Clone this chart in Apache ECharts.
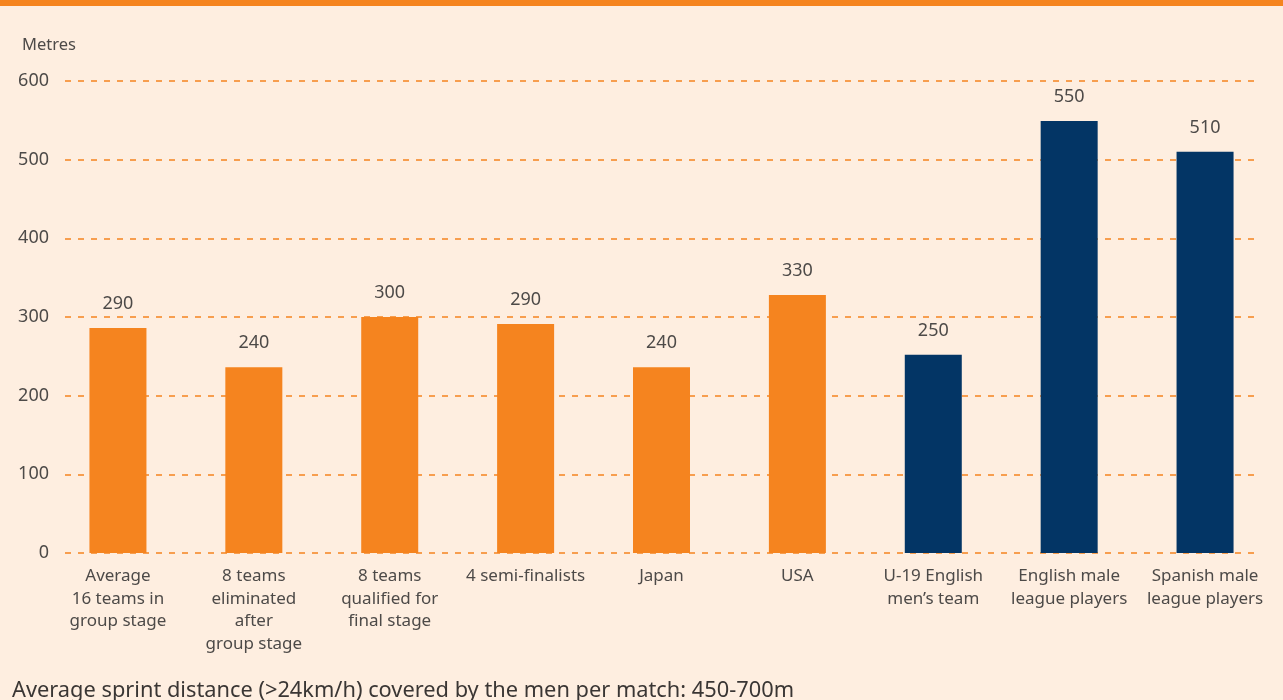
<!DOCTYPE html>
<html>
<head>
<meta charset="utf-8">
<script src="https://cdn.jsdelivr.net/npm/echarts@6/dist/echarts.min.js"></script>
<style>
  html, body { margin: 0; padding: 0; background: #FEEEE0; }
  #chart { width: 1283px; height: 700px; }
</style>
</head>
<body>
<div id="chart"></div>
<script>
// categories and values (metres)
const categories = [
  'Average\n16 teams in\ngroup stage',
  '8 teams\neliminated\nafter\ngroup stage',
  '8 teams\nqualified for\nfinal stage',
  '4 semi-finalists',
  'Japan',
  'USA',
  'U-19 English\nmen\u2019s team',
  'English male\nleague players',
  'Spanish male\nleague players'
]
const values = [286, 236, 300, 291, 236, 328, 252, 549, 510]
// first six are the women's teams (orange), last three the men (navy)
const groups = ['w', 'w', 'w', 'w', 'w', 'w', 'm', 'm', 'm']
const yTicks = [0, 100, 200, 300, 400, 500, 600]

const ORANGE = '#F5841F'
const NAVY = '#033565'
const TEXT = '#4d4a48'
const FONT = '"Noto Sans", "Open Sans", sans-serif'

const chart = echarts.init(document.getElementById('chart'))

const option = {
  backgroundColor: '#FEEEE0',
  animation: false,
  textStyle: { fontFamily: FONT },
  graphic: [
    // orange strip along the top
    { type: 'rect', left: 0, top: 0, shape: { width: 1283, height: 6 }, style: { fill: ORANGE } }
  ],
  title: [
    {
      text: 'Metres', left: 17, top: 32,
      textStyle: { fontFamily: FONT, fontSize: 16.5, fontWeight: 'normal', color: TEXT }
    },
    {
      text: 'Average sprint distance (>24km/h) covered by the men per match: 450-700m',
      left: 7, top: 675,
      textStyle: { fontFamily: FONT, fontSize: 21.8, fontWeight: 'normal', color: '#3a3634' }
    }
  ],
  grid: [
    // grid for the dashed lines and y labels
    { left: 65, right: 25, top: 81, bottom: 147 },
    // grid for the bars
    { left: 50, right: 10, top: 81, bottom: 147 }
  ],
  xAxis: [
    { type: 'category', gridIndex: 0, show: false, data: categories },
    {
      type: 'category', gridIndex: 1, data: categories,
      axisLine: { show: false }, axisTick: { show: false },
      axisLabel: {
        interval: 0, margin: 12, color: TEXT, fontSize: 17,
        lineHeight: 22.5, fontFamily: FONT, verticalAlign: 'top'
      }
    }
  ],
  yAxis: [
    {
      type: 'value', gridIndex: 0, min: 0, max: 600, interval: 100,
      axisLine: { show: false }, axisTick: { show: false },
      axisLabel: { margin: 16, color: TEXT, fontSize: 18, fontFamily: FONT,
        formatter: v => yTicks.includes(v) ? String(v) : '' },
      splitLine: { lineStyle: { color: ORANGE, type: [6, 7], width: 1.5 } }
    },
    {
      type: 'value', gridIndex: 1, min: 0, max: 600, interval: 100,
      show: false, splitLine: { show: false }
    }
  ],
  series: [
    {
      type: 'bar', xAxisIndex: 1, yAxisIndex: 1,
      barWidth: 57,
      data: values.map((v, i) => ({
        value: v,
        itemStyle: { color: groups[i] === 'm' ? NAVY : ORANGE }
      })),
      label: {
        show: true, position: 'top', distance: 15,
        color: TEXT, fontSize: 18, fontFamily: FONT,
        formatter: p => String(Math.round(p.value / 10) * 10)
      }
    }
  ]
}

chart.setOption(option)
</script>
</body>
</html>
